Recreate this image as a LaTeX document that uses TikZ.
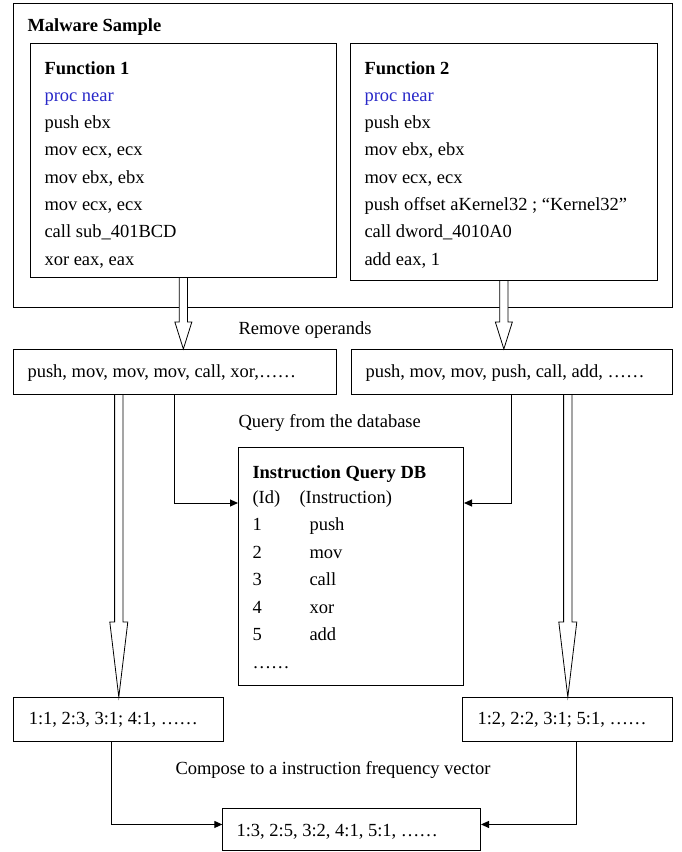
\documentclass[tikz,border=0pt]{standalone}
\usepackage{fontspec}
\setmainfont{Liberation Serif}
\usetikzlibrary{calc,arrows.meta}

\definecolor{procblue}{RGB}{40,40,200}

%% hollow (double outline) arrow: from, to, head length, half head width
\newcommand\hollowarrow[4]{%
  \draw[hollow] ($(#1)+(-4.2,0)$) -- ($(#2)+(-4.2,-#3)$) -- ($(#2)+(-#4,-#3)$) -- (#2)
    -- ($(#2)+(#4,-#3)$) -- ($(#2)+(4.2,-#3)$) -- ($(#1)+(4.2,0)$);}

\begin{document}
\begin{tikzpicture}[x=1pt,y=-1pt,line width=1pt,
  box/.style={draw,rectangle,anchor=north west,inner sep=0pt},
  txt/.style={anchor=base west,inner sep=0pt},
  hollow/.style={draw,fill=white,line width=0.8pt},
  arr/.style={-{Triangle[length=8pt,width=7pt]}}]
\fontsize{18.5}{22}\selectfont

\useasboundingbox (0,0) rectangle (682,852);

  %% malware sample
  \node[box,minimum width=659pt,minimum height=303.5pt] (sample) at (13,3) {};
  \node[txt,font=\bfseries] (sampletitle) at (27,31) {Malware Sample};

  \node[box,minimum width=305.7pt,minimum height=234pt] (fone) at (30,43) {};
  \node[box,minimum width=306.7pt,minimum height=237pt] (ftwo) at (350,43) {};

  %% function 1
  \node[txt,font=\bfseries] (fonehead) at (44,74) {Function 1};
  \node[txt,text=procblue] (foneproc) at (44,101.3) {proc near};
  \foreach \line [count=\i from 2] in {push ebx,{mov ecx, ecx},{mov ebx, ebx},
      {mov ecx, ecx},call sub\_401BCD,{xor eax, eax}}
    \node[txt] (fone\i) at (44,74+27.3*\i) {\line};

  %% function 2
  \node[txt,font=\bfseries] (ftwohead) at (364,74) {Function 2};
  \node[txt,text=procblue] (ftwoproc) at (364,101.3) {proc near};
  \foreach \line [count=\i from 2] in {push ebx,{mov ebx, ebx},{mov ecx, ecx},
      {push offset aKernel32 ; “Kernel32”},call dword\_4010A0,{add eax, 1}}
    \node[txt] (ftwo\i) at (364,74+27.3*\i) {\line};

  %% operands removed
  \node[txt] (remove) at (238,334) {Remove operands};
  \node[box,minimum width=322.7pt,minimum height=45pt] (opone) at (13,349) {};
  \node[box,minimum width=321.3pt,minimum height=45pt] (optwo) at (350.7,349) {};
  \node[txt] (oponetext) at (27,377) {push, mov, mov, mov, call, xor,……};
  \node[txt] (optwotext) at (365,377) {push, mov, mov, push, call, add, ……};

  \hollowarrow{fone.south}{opone.north -| fone.south}{27}{8.5}
  \hollowarrow{ftwo.south}{optwo.north -| ftwo.south}{27}{8.5}

  %% database
  \node[txt] (query) at (238,427) {Query from the database};
  \node[box,minimum width=225pt,minimum height=238pt] (db) at (238,447) {};
  \node[txt,font=\bfseries] (dbhead) at (252,478) {Instruction Query DB};
  \node[txt] (dbid) at (252,503) {(Id)};
  \node[txt] (dbins) at (299,503) {(Instruction)};
  \foreach \ins [count=\i] in {push,mov,call,xor,add}{
    \node[txt] (dbnum\i) at (252,503+27.5*\i) {\i};
    \node[txt] (dbins\i) at (309,503+27.5*\i) {\ins};
  }
  \node[txt] (dbdots) at (252,668) {……};

  \coordinate (qrow) at (0,503);
  \draw[arr] (opone.south) |- (db.west |- qrow);
  \draw[arr] (optwo.south) |- (db.east |- qrow);

  %% frequency vectors
  \node[box,minimum width=210pt,minimum height=44pt] (vecone) at (13.3,697) {};
  \node[box,minimum width=210pt,minimum height=44pt] (vectwo) at (462.3,697) {};
  \node[txt] (veconetext) at (28.3,724) {1:1, 2:3, 3:1; 4:1, ……};
  \node[txt] (vectwotext) at (477,724) {1:2, 2:2, 3:1; 5:1, ……};

  \hollowarrow{opone.south -| vecone.north}{vecone.north}{75}{9}
  \hollowarrow{optwo.south -| vectwo.north}{vectwo.north}{75}{9}

  %% result
  \node[txt] (compose) at (175,774) {Compose to a instruction frequency vector};
  \node[box,minimum width=257.7pt,minimum height=42.5pt] (res) at (222.3,807.7) {};
  \node[txt] (restext) at (236,836) {1:3, 2:5, 3:2, 4:1, 5:1, ……};

  \draw[arr] ([xshift=-7pt]vecone.south) |- ([yshift=5pt]res.west);
  \draw[arr] ([xshift=8.7pt]vectwo.south) |- ([yshift=5pt]res.east);

\end{tikzpicture}
\end{document}
